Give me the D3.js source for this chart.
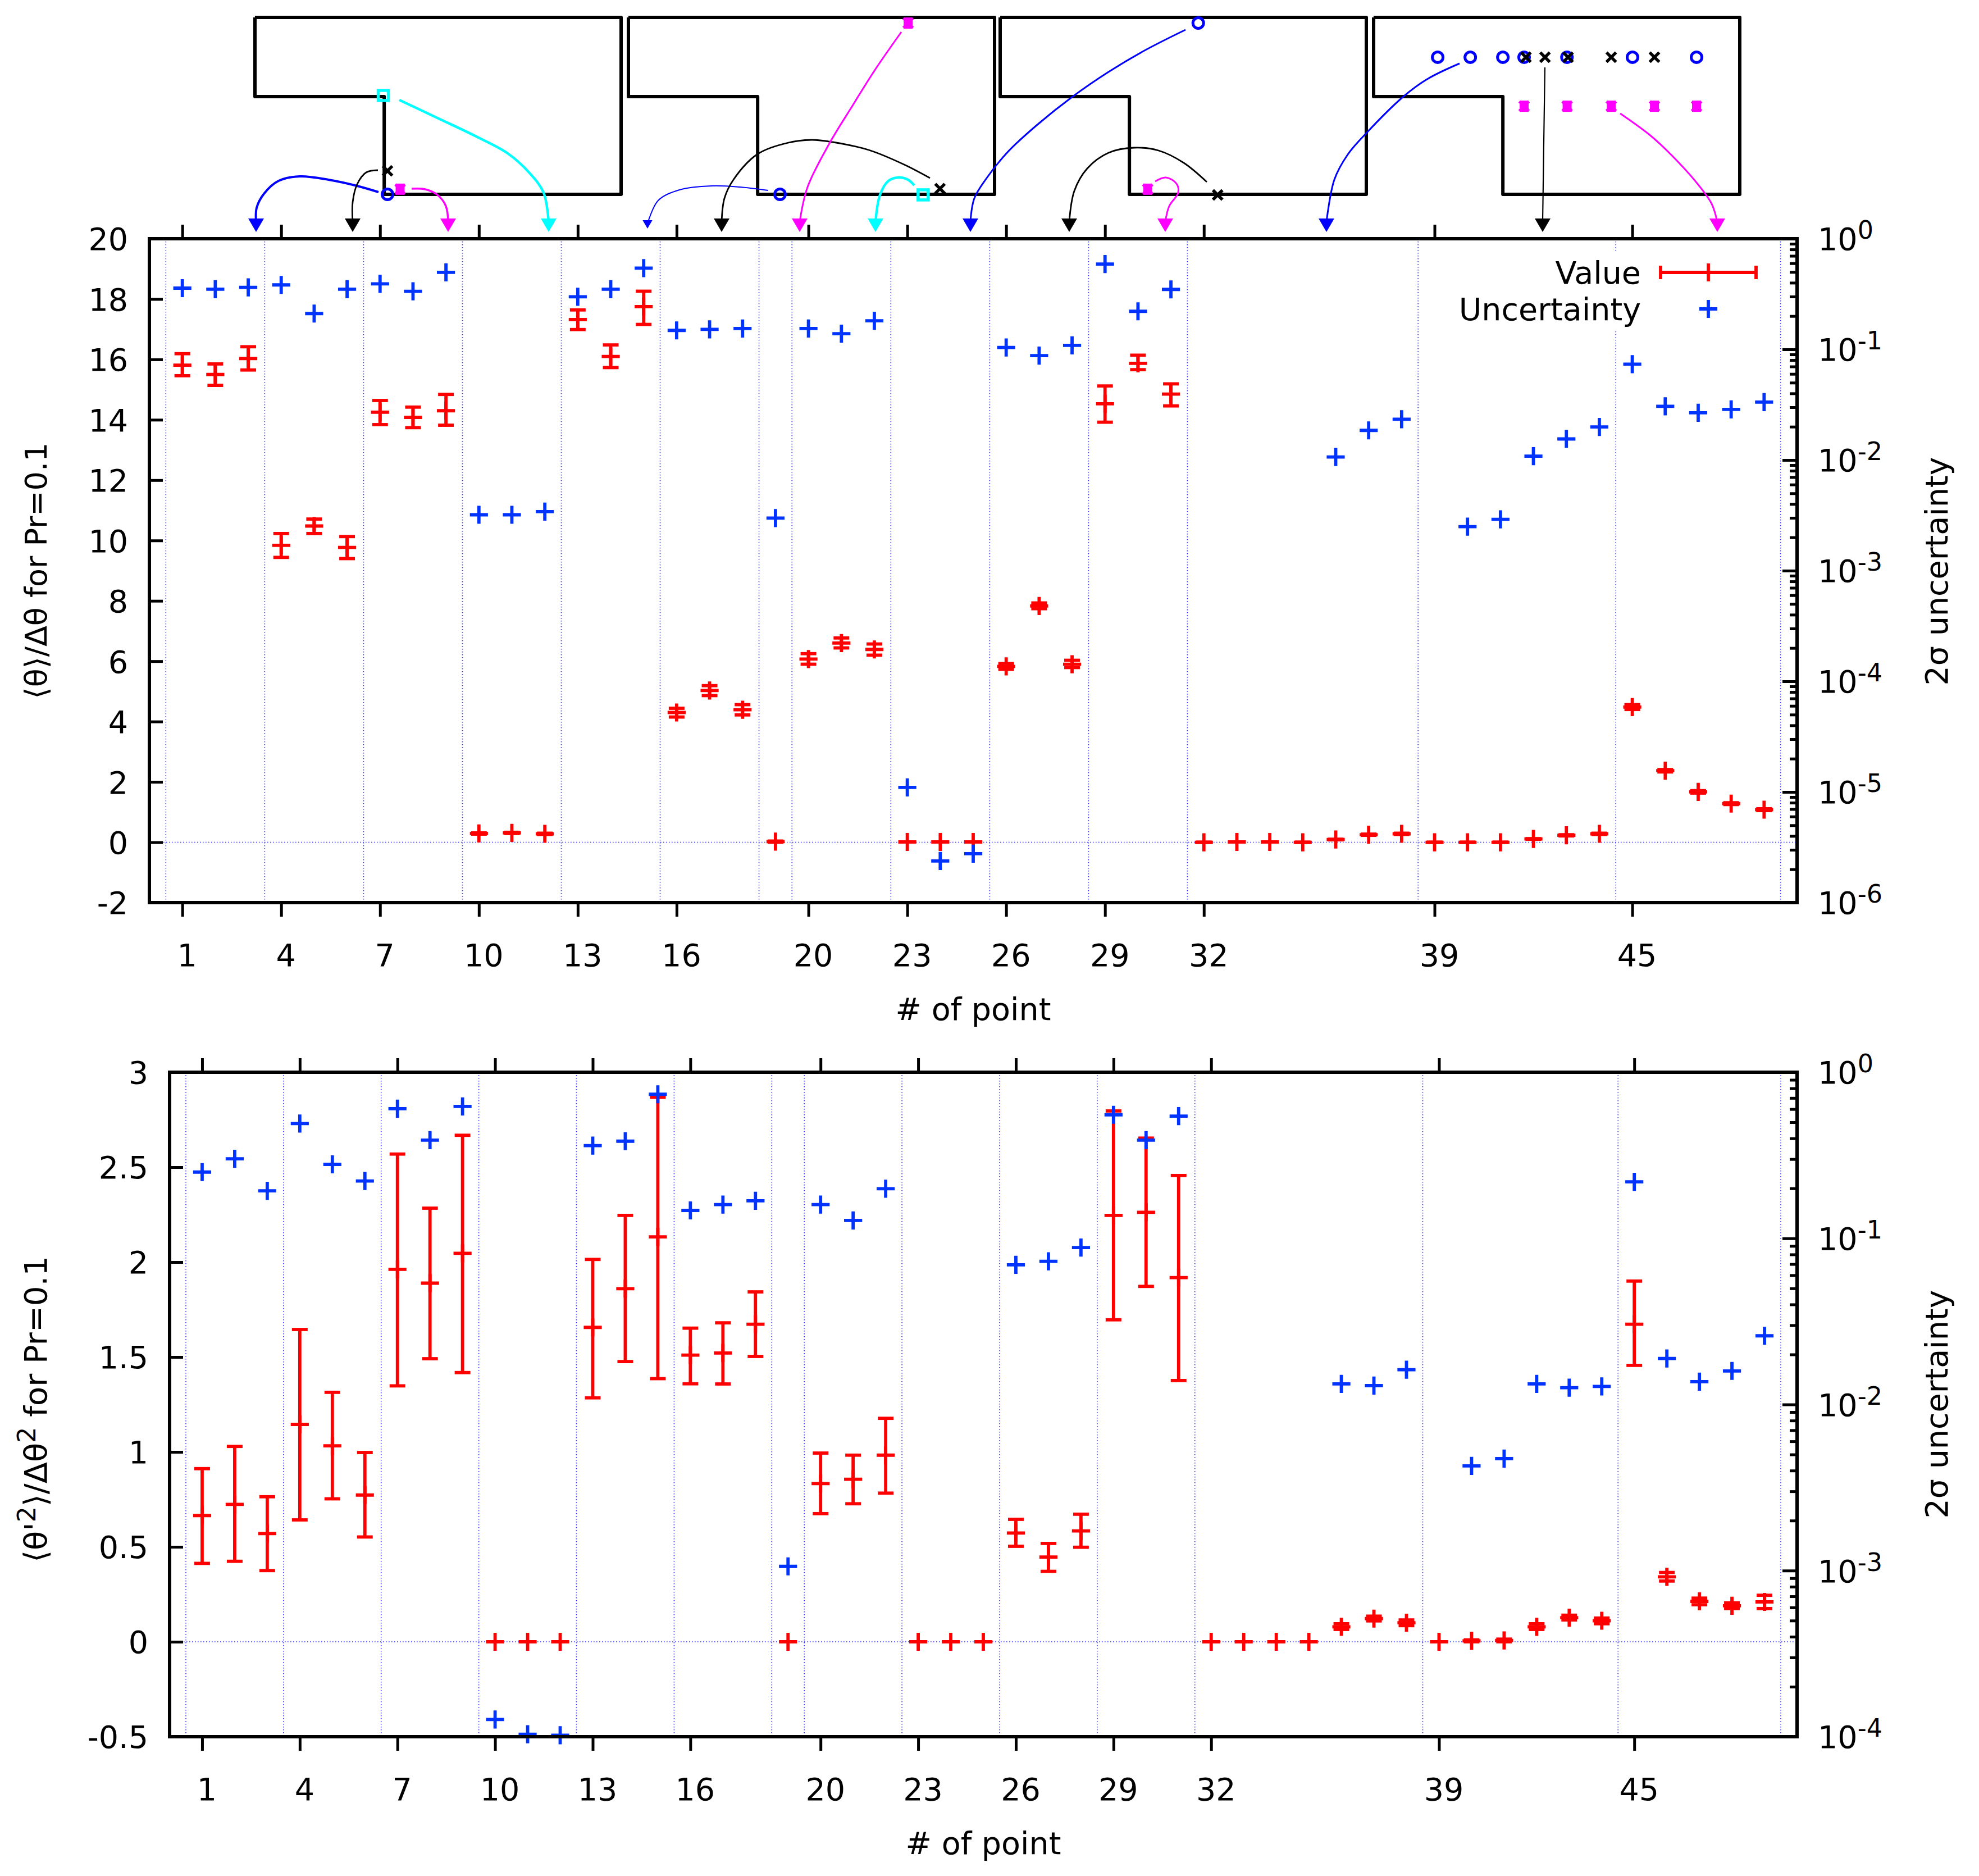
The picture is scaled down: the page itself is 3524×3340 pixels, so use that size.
<!DOCTYPE html>
<html>
<head>
    <meta charset='utf-8'>
    <title>Value and uncertainty per point</title>
    <style>
        html, body { margin: 0; padding: 0; background: #fff; }
        svg { display: block; }
        text { font-family: "DejaVu Sans", sans-serif; fill: #000; }
    </style>
</head>
<body>
    <svg id="chart" width="3524" height="3340"></svg>

    <script src="https://cdn.jsdelivr.net/npm/d3@7/dist/d3.min.js"></script>
    <script>
        // point numbers 1..49, null = nothing plotted
        const POINTS = d3.range(1, 50);
        const X_TICKS = [1, 4, 7, 10, 13, 16, 20, 23, 26, 29, 32, 39, 45];
        const SEPARATORS = [0.5, 3.5, 6.5, 9.5, 12.5, 15.5, 18.5, 19.5, 22.5, 25.5, 28.5, 31.5, 38.5, 44.5, 49.5];

        const MEAN_TICKS = [-2, 0, 2, 4, 6, 8, 10, 12, 14, 16, 18, 20];
        const VAR_TICKS = [-0.5, 0, 0.5, 1, 1.5, 2, 2.5, 3];

        const meanValue = [15.81, 15.50, 16.03, 9.84, 10.48, 9.77, 14.25, 14.08, 14.30, 0.29, 0.31, 0.28, 17.32, 16.10, 17.75, 4.30, 5.03, 4.39, 0.02, 6.07, 6.60, 6.39, 0.01, 0.01, 0.01, 5.83, 7.83, 5.90, 14.53, 15.87, 14.85, 0, 0.01, 0.01, 0, 0.09, 0.25, 0.28, 0, 0, 0, 0.11, 0.23, 0.28, 4.48, 2.37, 1.67, 1.28, 1.08];
        const meanLow = [15.46, 15.14, 15.65, 9.44, 10.23, 9.40, 13.84, 13.74, 13.82, 0.27, 0.29, 0.26, 16.99, 15.73, 17.16, 4.15, 4.86, 4.22, 0, 5.90, 6.44, 6.20, 0.01, 0.01, 0.01, 5.73, 7.74, 5.79, 13.92, 15.66, 14.46, 0, 0.01, 0.01, 0, 0.08, 0.23, 0.26, 0, 0, 0, 0.10, 0.21, 0.26, 4.40, 2.33, 1.63, 1.25, 1.05];
        const meanHigh = [16.19, 15.85, 16.42, 10.23, 10.71, 10.13, 14.64, 14.42, 14.84, 0.31, 0.33, 0.30, 17.64, 16.48, 18.26, 4.44, 5.19, 4.56, 0.04, 6.25, 6.77, 6.57, 0.01, 0.01, 0.01, 5.92, 7.93, 6.03, 15.12, 16.14, 15.19, 0, 0.01, 0.01, 0, 0.10, 0.27, 0.30, 0, 0, 0, 0.12, 0.25, 0.30, 4.56, 2.41, 1.71, 1.31, 1.11];
        const meanSigma = [.3576, .3497, .3630, .3824, .2107, .3497, .3911, .3344, .4963, .0032, .0032, .00342, .2990, .35, .5427, .1484, .1517, .1543, .00299, .1543, .1386, .1813, 1.099e-5, 2.38e-6, 2.77e-6, .1041, .0879, .1088, .590, .2207, .3482, null, null, null, null, .01064, .01853, .02339, null, .0025, .00291, .01084, .0155, .0199, .0735, .0306, .02675, .0287, .0334];

        const varValue = [.665, .724, .570, 1.145, 1.032, .773, 1.962, 1.889, 2.046, 0, 0, 0, 1.656, 1.860, 2.133, 1.51, 1.521, 1.673, 0, .833, .856, .983, 0, 0, 0, .573, .446, .584, 2.246, 2.262, 1.918, 0, 0, 0, 0, .079, .122, .10, 0, .005, .007, .079, .127, .111, 1.673, .342, .213, .19, .21];
        const varLow = [.413, .424, .375, .642, .753, .552, 1.348, 1.491, 1.418, 0, 0, 0, 1.285, 1.476, 1.386, 1.359, 1.358, 1.503, 0, .675, .727, .783, 0, 0, 0, .503, .371, .498, 1.696, 1.872, 1.376, 0, 0, 0, 0, .065, .11, .085, 0, 0, 0, .065, .115, .095, 1.456, .32, .195, .175, .175];
        const varHigh = [.912, 1.029, .764, 1.645, 1.314, .997, 2.569, 2.284, 2.668, 0, 0, 0, 2.014, 2.246, 2.868, 1.652, 1.680, 1.843, 0, .994, .983, 1.177, 0, 0, 0, .645, .518, .672, 2.796, 2.653, 2.456, 0, 0, 0, 0, .095, .135, .115, 0, .01, .014, .095, .14, .125, 1.90, .365, .23, .205, .245];
        const varSigma = [.2506, .3011, .1932, .4911, .2789, .2216, .6035, .3905, .6224, 1.27e-4, 1.035e-4, 1.02e-4, .3618, .3845, .7366, .1473, .1597, .1684, .00106, .1597, .1281, .1990, null, null, null, .0693, .0727, .0880, .5545, .3903, .5447, null, null, null, null, .0133, .0130, .0162, null, .00427, .00472, .0133, .01262, .01285, .2188, .01892, .01371, .01592, .0259];

        // probe locations in the four sketches: [sketch, fraction of width, fraction of height]
        const probesCircle = [[0, .362, 1], [1, .414, 1], [2, .541, .032], [3, .175, .225], [3, .264, .225], [3, .353, .225], [3, .411, .225], [3, .528, .225], [3, .707, .225], [3, .882, .225]];
        const probesCross = [[0, .362, .867], [1, .851, .968], [2, .594, 1.003], [3, .416, .225], [3, .468, .225], [3, .531, .225], [3, .649, .225], [3, .767, .225]];
        const probesStar = [[0, .3965, .971], [1, .764, .032], [2, .403, .971], [3, .411, .502], [3, .5285, .502], [3, .649, .502], [3, .767, .502], [3, .882, .502]];
        const probesSquare = [[0, .3505, .441], [1, .805, 1.003]];

        // the step outline of one sketch, as fractions of its box
        const SKETCH_X = [0, 1, 1, .353, .353, 0, 0];
        const SKETCH_Y = [0, 0, 1, 1, .4476, .4476, 0];

        // arrows from sketches down to the axis: colour, line width, head scale, then the curve in page px
        const arrowColors = ['#0000ff', '#000', '#ff00ff', '#00ffff', '#0000ff', '#000', '#ff00ff', '#00ffff', '#0000ff', '#000', '#ff00ff', '#0000ff', '#000', '#ff00ff'];
        const arrowWidths = [4, 2.8, 3.5, 4.5, 2, 2.8, 3, 4.5, 3, 2.8, 3, 3, 2.2, 3];
        const arrowHeads = [1, 1, 1, 1, 0.62, 1, 1, 1, 1, 1, 1, 1, 1, 1];
        const arrowCurves = [
            [[674, 342], [636, 331], [585, 320], [534, 314], [496, 322], [470, 345], [457, 370], [456, 395]],
            [[673, 303], [652, 307], [636, 328], [628, 360], [628, 395]],
            [[733, 336], [757, 337], [779, 347], [794, 367], [798, 395]],
            [[711, 178], [783, 212], [846, 242], [904, 273], [942, 307], [968, 343], [977, 395]],
            [[1368, 339], [1318, 333], [1267, 331], [1210, 338], [1172, 357], [1153, 398]],
            [[1656, 317], [1610, 293], [1547, 267], [1483, 253], [1445, 249], [1400, 255], [1348, 275], [1306, 320], [1290, 353], [1285, 395]],
            [[1605, 57], [1559, 123], [1515, 193], [1476, 257], [1438, 333], [1424, 395]],
            [[1628, 330], [1617, 320], [1601, 316], [1582, 322], [1567, 347], [1559, 395]],
            [[2111, 53], [2038, 90], [1974, 128], [1910, 172], [1846, 223], [1795, 270], [1757, 317], [1735, 353], [1728, 395]],
            [[2149, 324], [2108, 290], [2063, 268], [2019, 263], [1974, 272], [1936, 300], [1913, 340], [1904, 395]],
            [[2057, 323], [2076, 316], [2095, 327], [2098, 343], [2082, 367], [2075, 395]],
            [[2599, 113], [2543, 140], [2499, 172], [2433, 237], [2400, 275], [2376, 320], [2362, 395]],
            [[2751, 120], [2749, 255], [2747, 395]],
            [[2885, 202], [2941, 243], [2987, 287], [3025, 330], [3048, 363], [3058, 395]]
        ];

        const RED = '#ff0000';
        const BLUE = '#0033ff';
        const GRID = '#2a2aff';
        const FONT = 55.5;

        const svg = d3.select('#chart');

        const plus = d3.symbol().type(d3.symbolPlus).size(340);

        // gnuplot style superscript label helper
        function addParts(text, parts) {
            parts.forEach((p) => {
                const t = text.append('tspan').text(p[0]);
                if (p[1]) t.attr('dy', -20).attr('font-size', FONT * 0.8);
                if (p[2]) t.attr('dy', 20);
            });
        }

        function drawPanel(cfg) {
            const x = d3.scaleLinear().domain([0, 50]).range([cfg.left, cfg.right]);
            const y = d3.scaleLinear().domain(cfg.yDomain).range([cfg.bottom, cfg.top]);
            const ySigma = d3.scaleLog().domain([cfg.sigmaMin, 1]).range([cfg.bottom, cfg.top]);
            const g = svg.append('g');

            // dotted separators and zero line
            g.append('g').selectAll('line').data(SEPARATORS).enter().append('line')
                .attr('x1', (d) => x(d)).attr('x2', (d) => x(d))
                .attr('y1', cfg.top).attr('y2', cfg.bottom)
                .attr('stroke', GRID).attr('stroke-width', 1.6).attr('stroke-dasharray', '1.6 3.4');
            g.append('line')
                .attr('x1', cfg.left).attr('x2', cfg.right)
                .attr('y1', y(0)).attr('y2', y(0))
                .attr('stroke', GRID).attr('stroke-width', 1.6).attr('stroke-dasharray', '1.6 3.4');

            // axes
            const bottomAxis = g.append('g').attr('transform', `translate(0,${cfg.bottom})`)
                .call(d3.axisBottom(x).tickValues(X_TICKS).tickSize(25).tickSizeOuter(0));
            bottomAxis.selectAll('text').attr('font-size', FONT).attr('dx', 8).attr('y', 0).attr('dy', 0)
                .attr('transform', 'translate(0,113)');
            g.append('g').attr('transform', `translate(0,${cfg.top})`)
                .call(d3.axisTop(x).tickValues(X_TICKS).tickSize(25).tickSizeOuter(0).tickFormat(''));
            const leftAxis = g.append('g').attr('transform', `translate(${cfg.left},0)`)
                .call(d3.axisLeft(y).tickValues(cfg.yTicks).tickSize(-24).tickSizeOuter(0).tickPadding(38)
                    .tickFormat((d) => String(d)));
            leftAxis.selectAll('text').attr('font-size', FONT).attr('dy', '0.36em').attr('x', -38);

            const decades = d3.range(Math.log10(cfg.sigmaMin), 1);
            const minors = [];
            decades.slice(0, -1).forEach((e) => {
                d3.range(2, 10).forEach((m) => minors.push(m * Math.pow(10, e)));
            });
            g.append('g').attr('transform', `translate(${cfg.right},0)`)
                .call(d3.axisRight(ySigma).tickValues(minors).tickSize(-13).tickSizeOuter(0).tickFormat(''));
            const rightAxis = g.append('g').attr('transform', `translate(${cfg.right},0)`)
                .call(d3.axisRight(ySigma).tickValues(decades.map((e) => Math.pow(10, e))).tickSize(-26).tickSizeOuter(0).tickFormat(''));
            rightAxis.selectAll('.tick').append('text')
                .attr('font-size', FONT).attr('x', 37).attr('dy', '0.36em').attr('text-anchor', 'start').attr('fill', '#000')
                .each(function (d) {
                    addParts(d3.select(this), [['10'], [String(Math.round(Math.log10(d))), true]]);
                });
            g.selectAll('.tick line').attr('stroke', '#000').attr('stroke-width', 5);
            g.selectAll('.domain').remove();

            // value with error bars
            const bars = g.append('g').attr('stroke', RED).attr('fill', 'none').attr('stroke-width', 5.8);
            const rows = POINTS.map((n, i) => ({ n: n, v: cfg.value[i], lo: cfg.low[i], hi: cfg.high[i] }));
            bars.selectAll('line.err').data(rows).enter().append('line').attr('class', 'err')
                .attr('x1', (d) => x(d.n)).attr('x2', (d) => x(d.n))
                .attr('y1', (d) => y(d.lo)).attr('y2', (d) => y(d.hi));
            bars.selectAll('line.cap-lo').data(rows).enter().append('line').attr('class', 'cap-lo')
                .attr('x1', (d) => x(d.n) - 14).attr('x2', (d) => x(d.n) + 14)
                .attr('y1', (d) => y(d.lo)).attr('y2', (d) => y(d.lo));
            bars.selectAll('line.cap-hi').data(rows).enter().append('line').attr('class', 'cap-hi')
                .attr('x1', (d) => x(d.n) - 14).attr('x2', (d) => x(d.n) + 14)
                .attr('y1', (d) => y(d.hi)).attr('y2', (d) => y(d.hi));
            bars.selectAll('path').data(rows).enter().append('path')
                .attr('d', plus)
                .attr('transform', (d) => `translate(${x(d.n)},${y(d.v)})`);

            // uncertainty on the log axis, points with no value are not plotted
            const sigmaRows = POINTS.map((n, i) => ({ n: n, s: cfg.sigma[i] })).filter((d) => d.s !== null);
            g.append('g').selectAll('path').data(sigmaRows).enter().append('path')
                .attr('d', plus)
                .attr('transform', (d) => `translate(${x(d.n)},${ySigma(d.s)})`)
                .attr('fill', 'none').attr('stroke', BLUE).attr('stroke-width', 5.8);

            // frame
            g.append('rect')
                .attr('x', cfg.left).attr('y', cfg.top)
                .attr('width', cfg.right - cfg.left).attr('height', cfg.bottom - cfg.top)
                .attr('fill', 'none').attr('stroke', '#000').attr('stroke-width', 6);

            // axis titles
            g.append('text').attr('font-size', FONT).attr('text-anchor', 'middle')
                .attr('x', (cfg.left + cfg.right) / 2).attr('y', cfg.bottom + 209)
                .text('# of point');
            const yTitle = g.append('text').attr('font-size', cfg.titleFont).attr('text-anchor', 'middle')
                .attr('transform', `translate(83,${cfg.titleY}) rotate(-90)`);
            addParts(yTitle, cfg.yTitle);
            g.append('text').attr('font-size', FONT).attr('text-anchor', 'middle')
                .attr('transform', `translate(3468,${cfg.sigmaTitleY}) rotate(-90)`)
                .text('2σ uncertainty');

            if (cfg.legend) {
                const lg = g.append('g');
                lg.append('rect').attr('x', 2590).attr('y', 448).attr('width', 545).attr('height', 140).attr('fill', '#fff');
                lg.append('text').attr('font-size', FONT).attr('text-anchor', 'end').attr('x', 2922).attr('y', 505).text('Value');
                lg.append('text').attr('font-size', FONT).attr('text-anchor', 'end').attr('x', 2922).attr('y', 570).text('Uncertainty');
                lg.append('path').attr('d', 'M2957,473V497M2957,485H3127M3127,473V497M3042,469V501')
                    .attr('fill', 'none').attr('stroke', RED).attr('stroke-width', 5.8);
                lg.append('path').attr('d', plus).attr('transform', 'translate(3042,550)')
                    .attr('fill', 'none').attr('stroke', BLUE).attr('stroke-width', 5.8);
            }
        }

        drawPanel({
            left: 266, right: 3200, top: 425, bottom: 1607,
            yDomain: [-2, 20], yTicks: MEAN_TICKS, sigmaMin: 1e-6,
            value: meanValue, low: meanLow, high: meanHigh, sigma: meanSigma,
            titleFont: 54, titleY: 1016, sigmaTitleY: 1017,
            yTitle: [['⟨θ⟩/Δθ for Pr=0.1']],
            legend: true
        });

        drawPanel({
            left: 302, right: 3200, top: 1909, bottom: 3092,
            yDomain: [-0.5, 3], yTicks: VAR_TICKS, sigmaMin: 1e-4,
            value: varValue, low: varLow, high: varHigh, sigma: varSigma,
            titleFont: 56, titleY: 2509, sigmaTitleY: 2500,
            yTitle: [['⟨θ\''], ['2', true], ['⟩/Δθ', false, true], ['2', true], [' for Pr=0.1', false, true]],
            legend: false
        });

        // sketches above the first panel
        const sketchLeft = d3.scaleOrdinal().domain([0, 1, 2, 3]).range([454, 1119, 1781, 2446]);
        const sketchW = d3.scaleLinear().domain([0, 1]).range([0, 652]);
        const sketchH = d3.scaleLinear().domain([0, 1]).range([31, 346]);
        const px = (d) => sketchLeft(d[0]) + sketchW(d[1]);
        const py = (d) => sketchH(d[2]);

        const sketchLine = d3.line().x((d) => sketchW(d[0])).y((d) => sketchH(d[1]));
        const sketches = svg.append('g');
        sketches.selectAll('path').data([0, 1, 2, 3]).enter().append('path')
            .attr('d', sketchLine(SKETCH_X.map((fx, i) => [fx, SKETCH_Y[i]])))
            .attr('transform', (d) => `translate(${sketchLeft(d)},0)`)
            .attr('fill', 'none').attr('stroke', '#000').attr('stroke-width', 6).attr('stroke-linejoin', 'round');

        const arrowLine = d3.line().curve(d3.curveCatmullRom.alpha(0.5));
        const arrows = svg.append('g');
        arrowCurves.forEach((pts, i) => {
            arrows.append('path').attr('d', arrowLine(pts))
                .attr('fill', 'none').attr('stroke', arrowColors[i]).attr('stroke-width', arrowWidths[i]);
            const tipX = pts[pts.length - 1][0];
            const k = arrowHeads[i];
            const tipY = k < 1 ? 407 : 413;
            arrows.append('path')
                .attr('d', `M${tipX},${tipY}L${tipX - 14 * k},${tipY - 24 * k}L${tipX + 14 * k},${tipY - 24 * k}Z`)
                .attr('fill', arrowColors[i]);
        });

        const probes = svg.append('g').attr('fill', 'none');
        probes.selectAll('circle').data(probesCircle).enter().append('circle')
            .attr('cx', px).attr('cy', py).attr('r', 9.5)
            .attr('stroke', '#0000ff').attr('stroke-width', 5);
        probes.selectAll('rect').data(probesSquare).enter().append('rect')
            .attr('x', (d) => px(d) - 9).attr('y', (d) => py(d) - 9).attr('width', 18).attr('height', 18)
            .attr('stroke', '#00ffff').attr('stroke-width', 5.5);
        const cross = d3.symbol().type(d3.symbolTimes).size(190);
        probes.selectAll('path.cross').data(probesCross).enter().append('path').attr('class', 'cross')
            .attr('d', cross)
            .attr('transform', (d) => `translate(${px(d)},${py(d)})`)
            .attr('stroke', '#000').attr('stroke-width', 5.5);
        probes.selectAll('path.star').data(probesStar).enter().append('path').attr('class', 'star')
            .attr('d', cross)
            .attr('transform', (d) => `translate(${px(d)},${py(d)})`)
            .attr('stroke', '#ff00ff').attr('stroke-width', 5);
        probes.selectAll('rect.star').data(probesStar).enter().append('rect').attr('class', 'star')
            .attr('x', (d) => px(d) - 8).attr('y', (d) => py(d) - 10).attr('width', 16).attr('height', 20)
            .attr('fill', '#ff00ff');
    </script>
</body>
</html>
